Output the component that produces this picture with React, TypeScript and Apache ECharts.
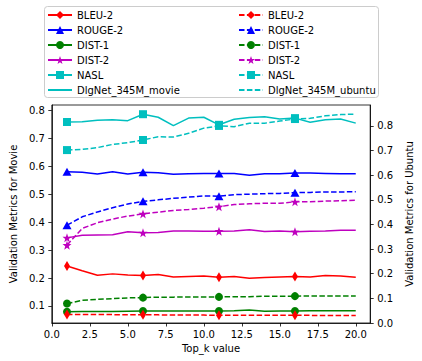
import React, { useEffect, useRef } from 'react';
import * as echarts from 'echarts';

const topK = [1, 2, 3, 4, 5, 6, 7, 8, 9, 10, 11, 12, 13, 14, 15, 16, 17, 18, 19, 20];

const bleuMovie = [0.243, 0.226, 0.210, 0.215, 0.211, 0.209, 0.213, 0.204, 0.206, 0.207, 0.203, 0.206, 0.199, 0.202, 0.204, 0.206, 0.204, 0.209, 0.207, 0.203];
const rougeMovie = [0.581, 0.579, 0.573, 0.581, 0.573, 0.579, 0.577, 0.572, 0.574, 0.575, 0.575, 0.575, 0.568, 0.574, 0.574, 0.576, 0.576, 0.575, 0.574, 0.574];
const dist1Movie = [0.079, 0.080, 0.080, 0.080, 0.081, 0.082, 0.082, 0.082, 0.082, 0.082, 0.082, 0.083, 0.086, 0.081, 0.082, 0.082, 0.083, 0.083, 0.083, 0.083];
const dist2Movie = [0.344, 0.353, 0.354, 0.355, 0.366, 0.362, 0.363, 0.369, 0.369, 0.368, 0.368, 0.369, 0.373, 0.367, 0.369, 0.366, 0.368, 0.369, 0.371, 0.371];
const naslMovie = [0.759, 0.760, 0.765, 0.767, 0.764, 0.787, 0.776, 0.746, 0.773, 0.776, 0.749, 0.769, 0.775, 0.778, 0.770, 0.773, 0.758, 0.767, 0.770, 0.755];

const bleuUbuntu = [0.035, 0.034, 0.034, 0.034, 0.033, 0.033, 0.033, 0.032, 0.032, 0.032, 0.031, 0.031, 0.031, 0.031, 0.031, 0.031, 0.031, 0.030, 0.030, 0.030];
const rougeUbuntu = [0.397, 0.431, 0.451, 0.468, 0.483, 0.494, 0.500, 0.506, 0.511, 0.516, 0.515, 0.521, 0.523, 0.525, 0.526, 0.529, 0.530, 0.532, 0.532, 0.533];
const dist1Ubuntu = [0.079, 0.092, 0.096, 0.099, 0.102, 0.103, 0.105, 0.105, 0.106, 0.106, 0.106, 0.107, 0.107, 0.109, 0.109, 0.109, 0.110, 0.110, 0.110, 0.110];
const dist2Ubuntu = [0.316, 0.384, 0.407, 0.422, 0.434, 0.443, 0.450, 0.457, 0.461, 0.466, 0.472, 0.481, 0.484, 0.486, 0.486, 0.492, 0.492, 0.495, 0.496, 0.498];
const naslUbuntu = [0.702, 0.705, 0.712, 0.725, 0.732, 0.743, 0.756, 0.755, 0.770, 0.791, 0.800, 0.797, 0.811, 0.811, 0.820, 0.828, 0.831, 0.841, 0.846, 0.848];

const metricNames = ['BLEU-2', 'ROUGE-2', 'DIST-1', 'DIST-2', 'NASL'];
const movieValues = [bleuMovie, rougeMovie, dist1Movie, dist2Movie, naslMovie];
const ubuntuValues = [bleuUbuntu, rougeUbuntu, dist1Ubuntu, dist2Ubuntu, naslUbuntu];
const modelNames = ['DlgNet_345M_movie', 'DlgNet_345M_ubuntu'];

const xTicks = [0, 2.5, 5, 7.5, 10, 12.5, 15, 17.5, 20];
const yLeftTicks = [0.1, 0.2, 0.3, 0.4, 0.5, 0.6, 0.7, 0.8];
const yRightTicks = [0, 0.1, 0.2, 0.3, 0.4, 0.5, 0.6, 0.7, 0.8];

const colors = ['#ff0000', '#0000ff', '#008000', '#bf00bf', '#00bfbf'];
const STAR = 'path://M0,-10 L2.35,-3.24 L9.51,-3.09 L3.8,1.24 L5.88,8.09 L0,4 L-5.88,8.09 L-3.8,1.24 L-9.51,-3.09 L-2.35,-3.24 Z';
const THIN_DIAMOND = 'path://M0,-10 L6,0 L0,10 L-6,0 Z';
const symbols = [THIN_DIAMOND, 'triangle', 'circle', STAR, 'rect'];
const symbolSizes: any[] = [[6, 10], [9, 8], [8, 8], [9, 9], [8, 8]];

const FONT = 'DejaVu Sans';

export default function App() {
  const ref = useRef<HTMLDivElement>(null);
  useEffect(() => {
    document.body.style.margin = '0';
    const chart = echarts.init(ref.current!, null, { renderer: 'svg' });

    const mkSeries = (vals: number[], i: number, ubuntu: boolean) => ({
      type: 'line',
      name: metricNames[i] + (ubuntu ? '|u' : '|m'),
      yAxisIndex: ubuntu ? 1 : 0,
      data: topK.map((k, j) => [k, vals[j]]),
      symbol: symbols[i],
      symbolSize: (_v: any, p: any) => (p && p.dataIndex % 5 === 0 ? symbolSizes[i] : 0),
      showSymbol: true,
      color: colors[i],
      itemStyle: { color: colors[i] },
      lineStyle: { color: colors[i], width: 1.5, type: ubuntu ? [5.5, 2.4] : 'solid' },
      z: 2,
    });

    const series: any[] = [];
    movieValues.forEach((v, i) => series.push(mkSeries(v, i, false)));
    series.push({
      type: 'line', name: modelNames[0] + '|m', data: [], symbol: 'none', yAxisIndex: 0,
      color: colors[4], lineStyle: { color: colors[4], width: 1.5, type: 'solid' },
    });
    ubuntuValues.forEach((v, i) => series.push(mkSeries(v, i, true)));
    series.push({
      type: 'line', name: modelNames[1] + '|u', data: [], symbol: 'none', yAxisIndex: 1,
      color: colors[4], lineStyle: { color: colors[4], width: 1.5, type: [5.5, 2.4] },
    });

    const legendBase = {
      orient: 'vertical',
      top: 10,
      padding: 0,
      itemWidth: 24,
      itemHeight: 10,
      itemGap: 5,
      selectedMode: false,
      textStyle: { fontFamily: FONT, fontSize: 10, color: '#000', lineHeight: 10 },
      formatter: (n: string) => n.split('|')[0],
    };
    const hiddenSymbol = { opacity: 0, color: 'transparent', borderWidth: 0 };

    const tickStyle = { show: true, length: 3.5, inside: false, lineStyle: { color: '#000', width: 0.8 } };
    const labelStyle = { fontFamily: FONT, fontSize: 10, color: '#000' };

    chart.setOption({
      animation: false,
      backgroundColor: '#fff',
      grid: { left: 44, right: 43, top: 105, bottom: 38, show: true, borderColor: '#000', borderWidth: 0.8, backgroundColor: 'transparent' },
      graphic: [
        {
          type: 'rect', shape: { x: 44.5, y: 6.5, width: 334, height: 91, r: 3 },
          style: { fill: 'rgba(255,255,255,0.8)', stroke: '#cccccc', lineWidth: 1 }, z: -1,
        },
      ],
      legend: [
        {
          ...legendBase, left: 47,
          data: [...metricNames.map((n) => n + '|m'), { name: modelNames[0] + '|m', itemStyle: hiddenSymbol }],
        },
        {
          ...legendBase, left: 238,
          data: [...metricNames.map((n) => n + '|u'), { name: modelNames[1] + '|u', itemStyle: hiddenSymbol }],
        },
      ],
      xAxis: {
        type: 'value', min: 0, max: 20.95,
        name: 'Top_k value', nameLocation: 'middle', nameGap: 20,
        nameTextStyle: { ...labelStyle },
        axisLine: { show: true, lineStyle: { color: '#000', width: 0.8 } },
        axisTick: { ...tickStyle, customValues: xTicks },
        axisLabel: { ...labelStyle, margin: 6, customValues: xTicks, formatter: (v: number) => v.toFixed(1) },
        splitLine: { show: false },
      },
      yAxis: [
        {
          type: 'value', min: 0.039, max: 0.82, position: 'left',
          name: 'Validation Metrics for Movie', nameLocation: 'middle', nameGap: 27, nameRotate: 90,
          nameTextStyle: { ...labelStyle },
          axisLine: { show: true, lineStyle: { color: '#000', width: 0.8 } },
          axisTick: { ...tickStyle, customValues: yLeftTicks },
          axisLabel: { ...labelStyle, margin: 7, customValues: yLeftTicks, formatter: (v: number) => v.toFixed(1) },
          splitLine: { show: false },
        },
        {
          type: 'value', min: 0, max: 0.885, position: 'right',
          name: 'Validation Metrics for Ubuntu', nameLocation: 'middle', nameGap: 26, nameRotate: 90,
          nameTextStyle: { ...labelStyle },
          axisLine: { show: true, lineStyle: { color: '#000', width: 0.8 } },
          axisTick: { ...tickStyle, customValues: yRightTicks },
          axisLabel: { ...labelStyle, margin: 7, customValues: yRightTicks, formatter: (v: number) => v.toFixed(1) },
          splitLine: { show: false },
        },
      ],
      series,
    });
    return () => chart.dispose();
  }, []);
  return <div ref={ref} style={{ width: 422, height: 361 }} />;
}
